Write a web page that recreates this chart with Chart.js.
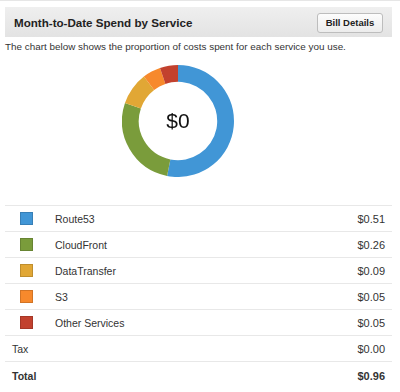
<!DOCTYPE html>
<html><head><meta charset="utf-8">
<script src="https://cdn.jsdelivr.net/npm/chart.js@4/dist/chart.umd.min.js"></script>
<style>
html,body{margin:0;padding:0;background:#fff;width:400px;height:392px;overflow:hidden;font-family:"Liberation Sans",Arial,Helvetica,sans-serif;color:#333;}
#topline{position:absolute;left:0;top:0;width:400px;height:1px;background:#e6e6e6;}
#hdr{position:absolute;left:5px;top:7px;width:387px;height:30px;background:linear-gradient(#efefef,#e3e3e3);}
#title{position:absolute;left:9px;top:9px;font-weight:bold;font-size:11.6px;color:#222;}
#btn{position:absolute;left:312px;top:6px;width:64px;height:18px;border:1px solid #bdbdbd;border-radius:3px;background:linear-gradient(#fdfdfd,#ececec);font-weight:bold;font-size:9.5px;color:#222;text-align:center;line-height:18px;box-sizing:content-box;}
#desc{position:absolute;left:5px;top:41px;font-size:9.9px;color:#333;}
#cwrap{position:absolute;left:122px;top:65px;width:112px;height:112px;}
table{position:absolute;left:5px;top:205px;width:387px;border-collapse:collapse;font-size:10.5px;color:#333;}
td{height:25px;border-top:1px solid #e8e8e8;padding:0;}
.sw{width:13px;height:13px;margin-left:15px;box-sizing:border-box;border:1px solid rgba(0,0,0,0.15);}
.val{text-align:right;padding-right:7px;font-size:11px;}
</style></head><body>
<div id="topline"></div>
<div id="hdr"><div id="title">Month-to-Date Spend by Service</div><div id="btn">Bill Details</div></div>
<div id="desc">The chart below shows the proportion of costs spent for each service you use.</div>
<div id="cwrap"><canvas id="c" width="112" height="112"></canvas></div>
<table id="tbl"></table>
<script>
const services = ["Route53","CloudFront","DataTransfer","S3","Other Services"];
const costs = [0.51,0.26,0.09,0.05,0.05];
const colors = ["#4196d6","#7a9c3b","#e1a735","#f7892c","#c2412e"];
const taxLabel = "Tax";
const taxValue = 0.00;
const totalLabel = "Total";
const totalValue = 0.96;
const centerText = "$0";

const tbl = document.getElementById('tbl');
let html = '';
services.forEach((s,i)=>{
  html += '<tr><td style="width:50px"><div class="sw" style="background:'+colors[i]+'"></div></td><td>'+s+'</td><td class="val">$'+costs[i].toFixed(2)+'</td></tr>';
});
html += '<tr><td colspan="2" style="padding-left:7px">'+taxLabel+'</td><td class="val">$'+taxValue.toFixed(2)+'</td></tr>';
html += '<tr><td colspan="2" style="padding-left:7px;font-weight:bold;height:28px">'+totalLabel+'</td><td class="val" style="font-weight:bold">$'+totalValue.toFixed(2)+'</td></tr>';
tbl.innerHTML = html;

const centerPlugin = {
  id:'centerText',
  afterDraw(chart){
    const ctx = chart.ctx;
    const m = chart.getDatasetMeta(0).data[0];
    ctx.save();
    ctx.font = '21px "Liberation Sans", Arial, sans-serif';
    ctx.fillStyle = '#111';
    ctx.textAlign = 'center';
    ctx.textBaseline = 'middle';
    ctx.fillText(centerText, m.x, m.y+1);
    ctx.restore();
  }
};

new Chart(document.getElementById('c'), {
  type:'doughnut',
  data:{labels:services,datasets:[{data:costs,backgroundColor:colors,borderWidth:0}]},
  options:{
    responsive:false,animation:false,cutout:'70%',
    plugins:{legend:{display:false},tooltip:{enabled:false}},
    layout:{padding:0}
  },
  plugins:[centerPlugin]
});
</script>
</body></html>
